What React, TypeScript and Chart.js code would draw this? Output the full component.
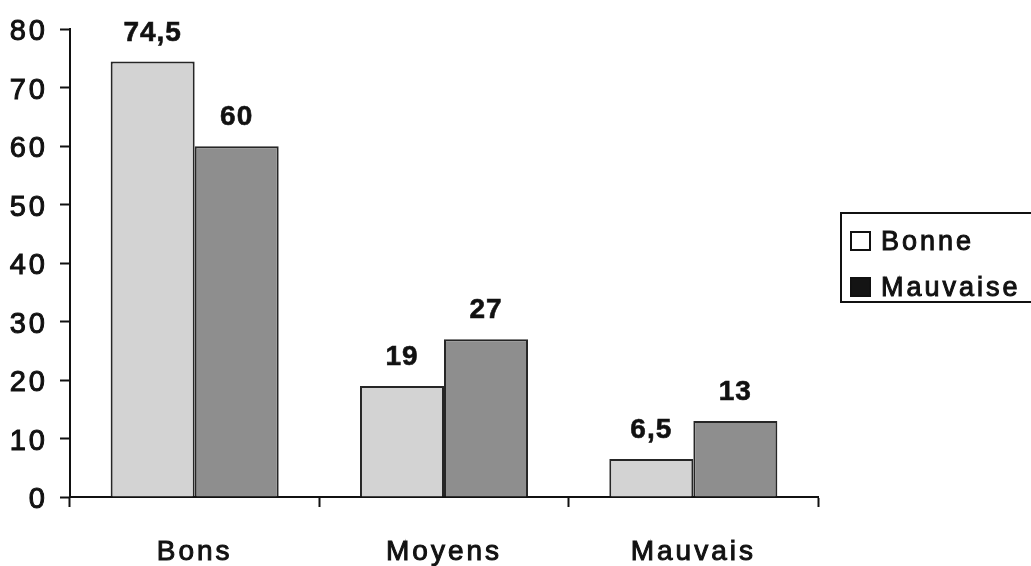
import { useEffect, useRef } from 'react';
import { Chart, registerables } from 'chart.js';

Chart.register(...registerables);

// Appreciation categories and the share (%) of each judgement
const categories = ['Bons', 'Moyens', 'Mauvais'];
const seriesNames = ['Bonne', 'Mauvaise'];
const bonneValues = [74.5, 19, 6.5];
const mauvaiseValues = [60, 27, 13];
const yMin = 0;
const yMax = 80;
const yStep = 10;

const FONT = '"Liberation Sans", Arial, sans-serif';
const INK = '#111111';

const formatValue = (v: number) => String(v).replace('.', ',');

export default function App() {
  const canvasRef = useRef<HTMLCanvasElement>(null);

  useEffect(() => {
    const canvas = canvasRef.current;
    if (!canvas) return;

    const setTracking = (chart: Chart, px: string) => {
      (chart.ctx as any).letterSpacing = px;
    };

    // wide letter tracking for axis text, value labels above bars, boxed legend at right
    const decorations = {
      id: 'decorations',
      beforeLayout(chart: Chart) {
        setTracking(chart, '3px');
      },
      beforeDraw(chart: Chart) {
        setTracking(chart, '3px');
      },
      afterDatasetsDraw(chart: Chart) {
        const ctx = chart.ctx;
        ctx.save();
        (ctx as any).letterSpacing = '1px';
        ctx.font = `bold 28px ${FONT}`;
        ctx.fillStyle = INK;
        ctx.strokeStyle = INK;
        ctx.lineWidth = 0.6;
        ctx.textAlign = 'center';
        ctx.textBaseline = 'alphabetic';
        chart.data.datasets.forEach((ds, i) => {
          const meta = chart.getDatasetMeta(i);
          meta.data.forEach((bar: any, j: number) => {
            const v = ds.data[j] as number;
            const label = formatValue(v);
            ctx.fillText(label, bar.x, bar.y - 21);
            ctx.strokeText(label, bar.x, bar.y - 21);
          });
        });
        ctx.restore();
      },
      afterDraw(chart: Chart) {
        const ctx = chart.ctx;
        ctx.save();
        // legend frame
        ctx.strokeStyle = INK;
        ctx.lineWidth = 2;
        ctx.strokeRect(841, 213, 200, 89);
        // legend entries
        const swatchFill = ['#ffffff', '#141414'];
        const baselines = [250, 296];
        ctx.font = `27px ${FONT}`;
        (ctx as any).letterSpacing = '3px';
        ctx.textAlign = 'left';
        ctx.textBaseline = 'alphabetic';
        chart.data.datasets.forEach((ds, i) => {
          const base = baselines[i];
          ctx.fillStyle = swatchFill[i];
          ctx.fillRect(851, base - 18, 19, 18);
          ctx.lineWidth = 2;
          ctx.strokeStyle = INK;
          ctx.strokeRect(851, base - 18, 19, 18);
          ctx.fillStyle = INK;
          ctx.lineWidth = 1;
          ctx.fillText(String(ds.label), 881, base);
          ctx.strokeText(String(ds.label), 881, base);
        });
        ctx.restore();
      },
    };

    const chart = new Chart(canvas, {
      type: 'bar',
      data: {
        labels: categories,
        datasets: [
          {
            label: seriesNames[0],
            data: bonneValues,
            backgroundColor: '#d3d3d3',
            borderColor: '#262626',
            borderWidth: 2,
            categoryPercentage: 0.674,
            barPercentage: 1,
          },
          {
            label: seriesNames[1],
            data: mauvaiseValues,
            backgroundColor: '#8e8e8e',
            borderColor: '#262626',
            borderWidth: 2,
            categoryPercentage: 0.674,
            barPercentage: 1,
          },
        ],
      },
      options: {
        animation: false,
        responsive: true,
        maintainAspectRatio: false,
        layout: { padding: { left: 0, right: 213, top: 28, bottom: 0 } },
        plugins: {
          legend: { display: false },
          tooltip: { enabled: false },
          title: { display: false },
        },
        scales: {
          x: {
            afterFit: (scale: any) => {
              scale.height = 69;
            },
            border: { display: true, color: INK, width: 2 },
            grid: {
              display: true,
              offset: true,
              drawOnChartArea: false,
              drawTicks: true,
              tickLength: 10,
              tickWidth: 2,
              tickColor: INK,
            },
            ticks: {
              color: INK,
              font: { family: FONT, size: 28 },
              textStrokeColor: INK,
              textStrokeWidth: 1,
              padding: 28,
              maxRotation: 0,
            },
          },
          y: {
            min: yMin,
            max: yMax,
            afterFit: (scale: any) => {
              scale.width = 70;
            },
            border: { display: true, color: INK, width: 2 },
            grid: {
              display: true,
              drawOnChartArea: false,
              drawTicks: true,
              tickLength: 10,
              tickWidth: 2,
              tickColor: INK,
            },
            ticks: {
              stepSize: yStep,
              color: INK,
              font: { family: FONT, size: 29 },
              textStrokeColor: INK,
              textStrokeWidth: 1,
              padding: 12,
              labelOffset: 3,
            },
          },
        },
      },
      plugins: [decorations],
    });

    return () => chart.destroy();
  }, []);

  return (
    <div
      style={{
        position: 'fixed',
        left: 0,
        top: 0,
        width: 1031,
        height: 566,
        background: '#ffffff',
      }}
    >
      <canvas ref={canvasRef} />
    </div>
  );
}
